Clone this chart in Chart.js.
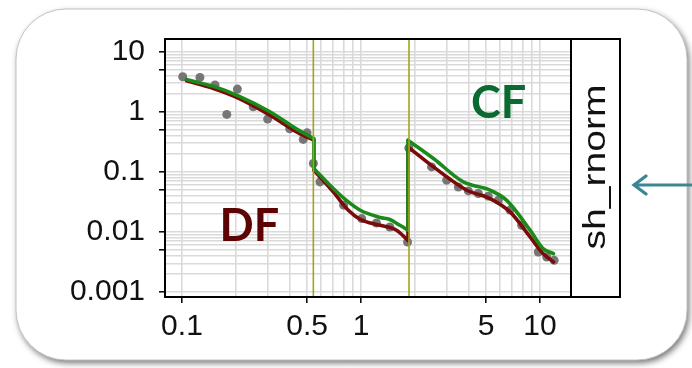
<!DOCTYPE html>
<html>
<head>
<meta charset="utf-8">
<script src="https://cdn.jsdelivr.net/npm/chart.js@4/dist/chart.umd.min.js"></script>
<style>
    html, body { margin: 0; padding: 0; background: #ffffff; }
    #wrap { width: 692px; height: 368px; position: relative; }
</style>
</head>
<body>
<div id="wrap"><canvas id="rnormChart" width="692" height="368"></canvas></div>
<script>
// observed points (grey dots)
const dotX = [0.101, 0.126, 0.153, 0.178, 0.204, 0.25, 0.301, 0.40, 0.476, 0.50, 0.542, 0.59, 0.80, 1.01, 1.22, 1.45, 1.82,
              1.85, 2.48, 3.01, 3.5, 3.98, 4.52, 5.14, 5.85, 6.8, 7.9, 9.78, 10.9, 12.0];
const dotY = [3.83, 3.74, 2.79, 0.905, 2.39, 1.21, 0.756, 0.52, 0.347, 0.447, 0.138, 0.068, 0.0279, 0.0167, 0.0141, 0.0121, 0.0068,
              0.25, 0.121, 0.0728, 0.056, 0.0482, 0.0436, 0.0394, 0.0338, 0.0231, 0.0129, 0.00464, 0.00383, 0.00337];

// dark red fit (a repeated x is a vertical jump)
const redX = [0.106, 0.15, 0.202, 0.31, 0.45, 0.545, 0.545, 0.70, 0.85, 0.99, 1.28, 1.58, 1.83,
              1.83, 2.54, 3.9, 5.26, 6.8, 8.8, 10.4, 11.9];
const redY = [3.29, 2.45, 1.74, 0.88, 0.44, 0.337, 0.107, 0.0464, 0.023, 0.0162, 0.0129, 0.0107, 0.0072,
              0.261, 0.121, 0.0495, 0.036, 0.0216, 0.0083, 0.00436, 0.00316];

// green fit
const greenX = [0.106, 0.15, 0.202, 0.31, 0.45, 0.545, 0.545, 0.70, 0.85, 0.99, 1.28, 1.45, 1.65, 1.83,
                1.83, 2.54, 3.73, 5.26, 6.5, 8.8, 10.4, 11.9];
const greenY = [3.46, 2.65, 1.9, 1.0, 0.49, 0.36, 0.114, 0.053, 0.0316, 0.023, 0.0174, 0.0161, 0.0129, 0.0107,
                0.337, 0.167, 0.068, 0.0495, 0.0338, 0.0107, 0.00528, 0.00436];

const dividers = [0.542, 1.855];
const xLabels = [0.1, 0.5, 1, 5, 10];
const yLabels = [0.001, 0.01, 0.1, 1, 10];
const regionLabels = [
    { text: 'DF', x: 0.238, y: 0.0122, color: '#5c0303' },
    { text: 'CF', x: 5.87, y: 1.37, color: '#0b6a30' }
];
const stripTitle = 'sh_rnorm';

const xRange = [0.0804, 14.9];
const yRange = [0.000826, 16.3];

function toPoints(xs, ys) {
    return xs.map((x, i) => ({ x: x, y: ys[i] }));
}

// cut a curve into smooth runs and the straight vertical jumps between them
function curvePieces(xs, ys, color, width) {
    const pts = toPoints(xs, ys);
    const pieces = [];
    let run = [pts[0]];
    for (let i = 1; i < pts.length; i++) {
        if (pts[i].x === pts[i - 1].x) {
            pieces.push({ data: run, smooth: true });
            pieces.push({ data: [pts[i - 1], pts[i]], smooth: false });
            run = [pts[i]];
        } else {
            run.push(pts[i]);
        }
    }
    pieces.push({ data: run, smooth: true });
    return pieces.map(p => ({
        data: p.data,
        showLine: true,
        borderColor: color,
        borderWidth: width,
        borderCapStyle: 'round',
        borderJoinStyle: 'round',
        pointRadius: 0,
        cubicInterpolationMode: p.smooth ? 'monotone' : 'default',
        tension: 0
    }));
}

// grid at every 1..9 x 10^n
function logGrid(lo, hi) {
    const out = [];
    for (let e = lo; e <= hi; e++) {
        for (let m = 1; m <= 9; m++) out.push(parseFloat((m * Math.pow(10, e)).toPrecision(3)));
    }
    return out;
}
const xGrid = logGrid(-1, 1).filter(v => v >= xRange[0] && v <= xRange[1]);
const yGrid = logGrid(-3, 1).filter(v => v >= yRange[0] && v <= yRange[1]);

function isIn(list, v) {
    return list.some(l => Math.abs(l - v) / l < 1e-6);
}

const LEFT = 165, RIGHT = 571, TOP = 39, BOTTOM = 297, STRIP_R = 620;

const framePlugin = {
    id: 'frame',
    beforeDraw(chart) {
        const ctx = chart.ctx;
        ctx.save();
        ctx.fillStyle = '#ffffff';
        ctx.fillRect(0, 0, chart.width, chart.height);
        // rounded panel with shadow
        ctx.shadowColor = 'rgba(0,0,0,0.55)';
        ctx.shadowBlur = 6;
        ctx.shadowOffsetX = 2;
        ctx.shadowOffsetY = 3;
        ctx.beginPath();
        ctx.roundRect(16, 9, 671, 351, 50);
        ctx.fillStyle = '#ffffff';
        ctx.fill();
        ctx.shadowColor = 'transparent';
        ctx.strokeStyle = '#c4c4c4';
        ctx.lineWidth = 1;
        ctx.stroke();
        ctx.restore();
    },
    afterDatasetsDraw(chart) {
        const ctx = chart.ctx;
        const xs = chart.scales.x, ys = chart.scales.y;
        const a = chart.chartArea;
        ctx.save();
        // olive dividers
        ctx.strokeStyle = '#a3a321';
        ctx.lineWidth = 1.6;
        dividers.forEach(d => {
            const px = xs.getPixelForValue(d);
            ctx.beginPath();
            ctx.moveTo(px, a.top);
            ctx.lineTo(px, a.bottom);
            ctx.stroke();
        });
        // region labels
        ctx.font = 'bold 45px Lato, "Open Sans", sans-serif';
        ctx.textAlign = 'center';
        ctx.textBaseline = 'middle';
        regionLabels.forEach(l => {
            ctx.fillStyle = l.color;
            ctx.fillText(l.text, xs.getPixelForValue(l.x), ys.getPixelForValue(l.y));
        });
        // frame + strip
        ctx.strokeStyle = '#000000';
        ctx.lineWidth = 2;
        ctx.strokeRect(a.left, a.top, STRIP_R - a.left, a.bottom - a.top);
        ctx.beginPath();
        ctx.moveTo(a.right, a.top);
        ctx.lineTo(a.right, a.bottom);
        ctx.stroke();
        // strip title, rotated
        ctx.save();
        ctx.translate((a.right + STRIP_R) / 2 + 1, (a.top + a.bottom) / 2 - 1);
        ctx.rotate(-Math.PI / 2);
        ctx.font = '31px "Liberation Sans", Arial, sans-serif';
        const w = ctx.measureText(stripTitle).width;
        ctx.scale(165 / w, 1);
        ctx.fillStyle = '#111111';
        ctx.textAlign = 'center';
        ctx.textBaseline = 'middle';
        ctx.fillText(stripTitle, 0, 0);
        ctx.restore();
        // arrow pointing at the strip
        ctx.strokeStyle = '#3d8793';
        ctx.lineWidth = 3.2;
        ctx.lineCap = 'round';
        ctx.beginPath();
        ctx.moveTo(700, 185);
        ctx.lineTo(635, 185);
        ctx.moveTo(646, 176);
        ctx.lineTo(634, 185);
        ctx.lineTo(646, 194);
        ctx.stroke();
        ctx.restore();
    }
};

const tickFont = { family: '"Liberation Sans", Arial, sans-serif', size: 30 };

new Chart(document.getElementById('rnormChart'), {
    type: 'scatter',
    data: {
        datasets: [
            ...curvePieces(greenX, greenY, '#1a8a1a', 3.6),
            ...curvePieces(redX, redY, '#7a0b0b', 3.6),
            {
                label: 'obs',
                data: toPoints(dotX, dotY),
                showLine: false,
                backgroundColor: '#767676',
                borderWidth: 0,
                pointRadius: 4.5
            }
        ]
    },
    options: {
        responsive: false,
        animation: false,
        devicePixelRatio: 1,
        layout: { padding: { left: 0, top: TOP, right: 692 - RIGHT, bottom: 0 } },
        plugins: { legend: { display: false }, tooltip: { enabled: false } },
        scales: {
            x: {
                type: 'logarithmic',
                min: xRange[0],
                max: xRange[1],
                afterFit(scale) { scale.height = 368 - BOTTOM; },
                afterBuildTicks(scale) { scale.ticks = xGrid.map(v => ({ value: v })); },
                border: { display: false },
                grid: {
                    color: '#dadada',
                    lineWidth: 1.6,
                    tickLength: 6,
                    tickWidth: 1.5,
                    tickColor: c => (c.tick && isIn(xLabels, c.tick.value)) ? '#000000' : 'rgba(0,0,0,0)'
                },
                ticks: {
                    autoSkip: false,
                    maxRotation: 0,
                    padding: 6,
                    color: '#111111',
                    font: tickFont,
                    callback: v => isIn(xLabels, v) ? String(v) : ''
                }
            },
            y: {
                type: 'logarithmic',
                min: yRange[0],
                max: yRange[1],
                afterFit(scale) { scale.width = LEFT; },
                afterBuildTicks(scale) { scale.ticks = yGrid.map(v => ({ value: v })); },
                border: { display: false },
                grid: {
                    color: '#dadada',
                    lineWidth: 1.6,
                    tickLength: 6,
                    tickWidth: 1.5,
                    tickColor: c => (c.tick && (isIn(yLabels, c.tick.value) || isIn(yLabels, c.tick.value / 5))) ? '#000000' : 'rgba(0,0,0,0)'
                },
                ticks: {
                    autoSkip: false,
                    padding: 14,
                    color: '#111111',
                    font: tickFont,
                    callback: v => isIn(yLabels, v) ? String(v) : ''
                }
            }
        }
    },
    plugins: [framePlugin]
});
</script>
</body>
</html>
